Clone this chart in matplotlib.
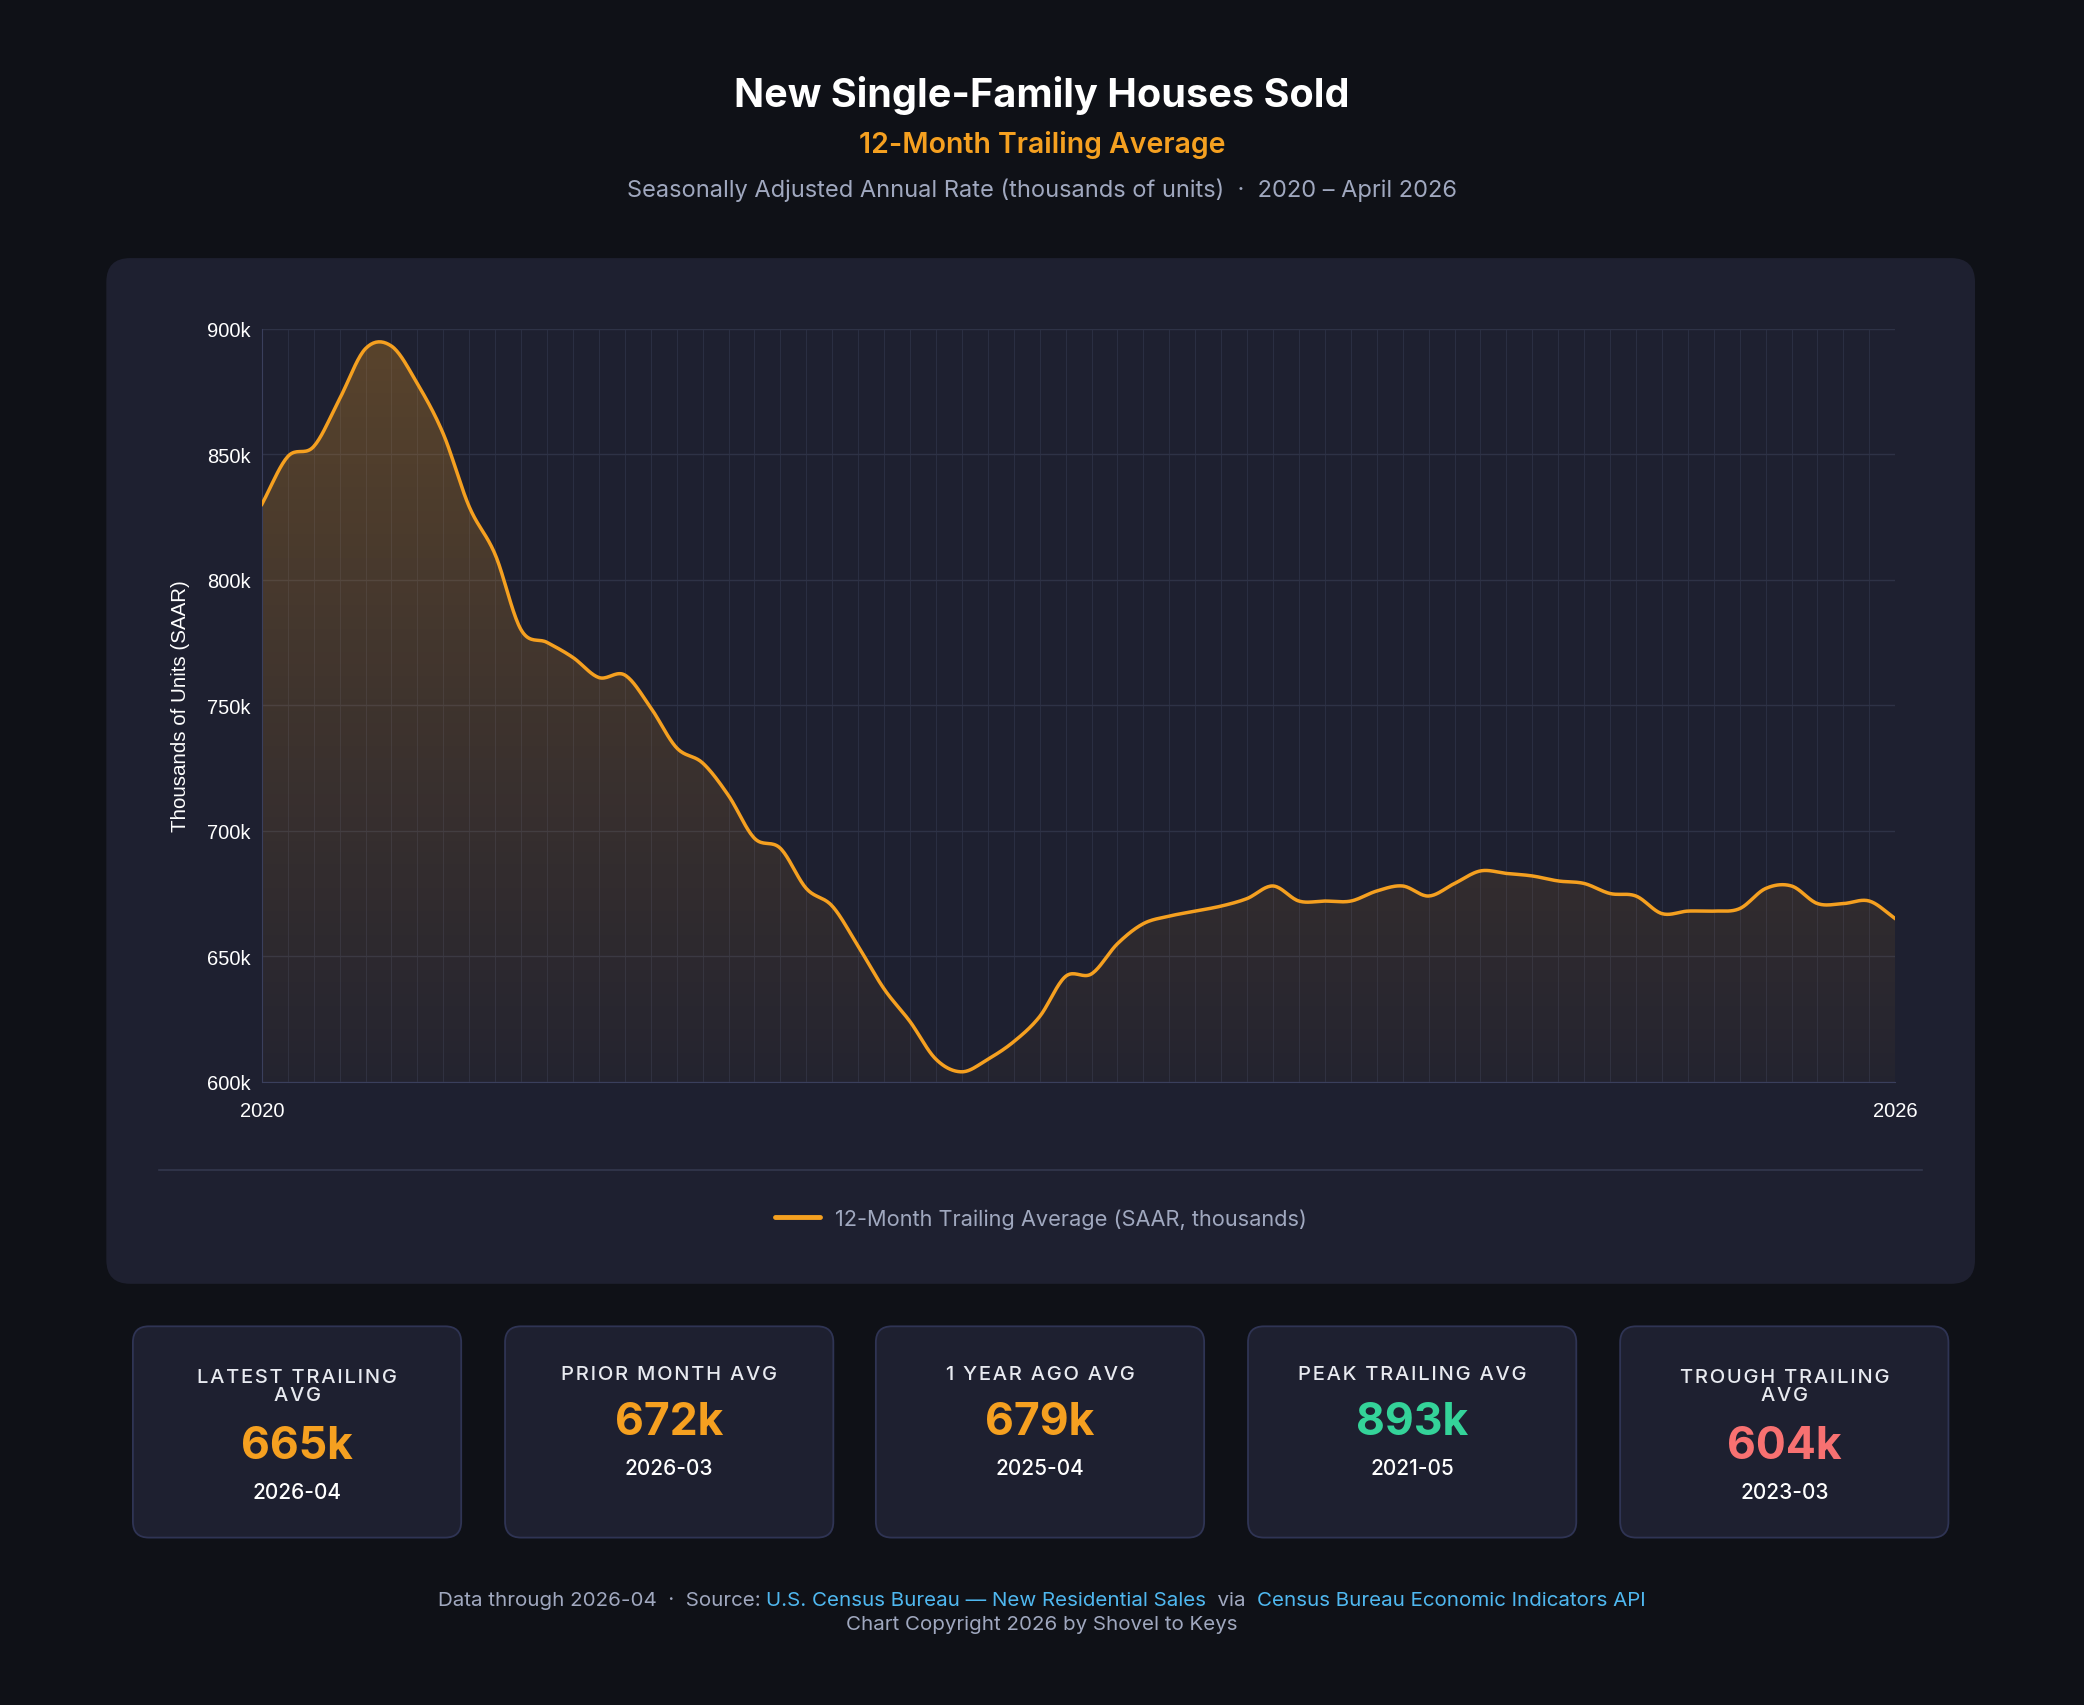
import numpy as np
import matplotlib
matplotlib.use("Agg")
import matplotlib.pyplot as plt
from matplotlib.patches import FancyBboxPatch

# 12-month trailing average, 2021-01 .. 2026-04 (thousands, SAAR)
values = [830, 849, 853, 872, 892, 893, 878, 858, 829, 810,
          780, 775, 769, 761, 762, 749, 733, 727, 714, 697,
          693, 677, 670, 654, 637, 624, 609, 604, 609, 616,
          626, 642, 643, 655, 663, 666, 668, 670, 673, 678,
          672, 672, 672, 676, 678, 674, 679, 684, 683, 682,
          680, 679, 675, 674, 667, 668, 668, 669, 677, 678,
          671, 671, 672, 665]
y_ticks = [600, 650, 700, 750, 800, 850, 900]
x_labels = ["2020", "2026"]

card_labels = ["LATEST TRAILING\nAVG", "PRIOR MONTH AVG", "1 YEAR AGO AVG",
               "PEAK TRAILING AVG", "TROUGH TRAILING\nAVG"]
card_values = ["665k", "672k", "679k", "893k", "604k"]
card_dates = ["2026-04", "2026-03", "2025-04", "2021-05", "2023-03"]
card_colors = ["#f5a020", "#f5a020", "#f5a020", "#34d399", "#f87171"]

BG = "#0f1117"
PANEL = "#1e2030"
ORANGE = "#f5a020"
MUTED = "#a0a8bf"
SANS = ["Inter", "DejaVu Sans"]


def spaced(s):
    # rough letter-spacing for the uppercase card labels
    return "\n".join("\u200a".join(line) for line in s.split("\n"))


W, H = 1568, 1284
fig = plt.figure(figsize=(20.84, 17.06), dpi=100, facecolor=BG)
bg = fig.add_axes([0, 0, 1, 1], zorder=0)
bg.set_xlim(0, W)
bg.set_ylim(H, 0)
bg.axis("off")

# titles
bg.text(W / 2, 72, "New Single-Family Houses Sold", ha="center", va="center",
        color="white", fontsize=28.5, fontweight="bold", family=SANS)
bg.text(W / 2, 109, "12-Month Trailing Average", ha="center", va="center",
        color=ORANGE, fontsize=20.5, fontweight="semibold", family=SANS)
bg.text(W / 2, 143, "Seasonally Adjusted Annual Rate (thousands of units)  ·  2020 – April 2026",
        ha="center", va="center", color=MUTED, fontsize=17, family=SANS)

# main panel
bg.add_patch(FancyBboxPatch((80, 195), 1406, 772, boxstyle="round,pad=0,rounding_size=18",
                            fc=PANEL, ec="none"))
bg.plot([120, 1446], [881, 881], color="#33374d", lw=1.2)
bg.plot([583, 617], [917, 917], color=ORANGE, lw=3.5, solid_capstyle="round")
bg.text(628, 918, "12-Month Trailing Average (SAAR, thousands)", ha="left", va="center",
        color=MUTED, fontsize=15.7, family=SANS)

# stat cards
card_x = [100, 380, 659, 939, 1219]
for x0, lab, val, dt, col in zip(card_x, card_labels, card_values, card_dates, card_colors):
    bg.add_patch(FancyBboxPatch((x0, 999), 247, 159, boxstyle="round,pad=0,rounding_size=12",
                                fc=PANEL, ec="#2f3454", lw=1.3))
    cx = x0 + 123.5
    two = "\n" in lab
    off = 18 if two else 0
    bg.text(cx, 1035 + off / 2, spaced(lab), ha="center", va="center", color="#e8eaf0",
            fontsize=14.5, fontweight="medium", family=SANS, linespacing=1.0)
    bg.text(cx, 1071 + off, val, ha="center", va="center", color=col,
            fontsize=32, fontweight="bold", family=SANS)
    bg.text(cx, 1106 + off, dt, ha="center", va="center", color="white",
            fontsize=15, fontweight="medium", family=SANS)

# footer with mixed colours
fig.canvas.draw()
r = fig.canvas.get_renderer()
parts = [("Data through 2026-04  ·  Source: ", MUTED),
         ("U.S. Census Bureau — New Residential Sales", "#4fb8f0"),
         ("  via  ", MUTED),
         ("Census Bureau Economic Indicators API", "#4fb8f0")]
texts = []
for s, c in parts:
    t = bg.text(0, 1205, s, ha="left", va="center", color=c, fontsize=14.8, family=SANS)
    texts.append(t)
widths = [t.get_window_extent(renderer=r).width / (fig.get_figwidth() * fig.dpi) * W for t in texts]
x = W / 2 - sum(widths) / 2
for t, w in zip(texts, widths):
    t.set_x(x)
    x += w
bg.text(W / 2, 1223, "Chart Copyright 2026 by Shovel to Keys", ha="center", va="center",
        color=MUTED, fontsize=14.8, family=SANS)

# chart axes
ax = fig.add_axes([197 / W, 1 - 815 / H, (1426 - 197) / W, (815 - 248) / H], zorder=2)
ax.set_facecolor("none")
n = len(values)
xs = np.arange(n)
ys = np.array(values, dtype=float)

# smooth the drawn line (cubic Hermite between the monthly points)
m = np.gradient(ys)
xf, yf = [], []
for i in range(n - 1):
    t = np.linspace(0, 1, 20, endpoint=False)
    h00 = 2 * t**3 - 3 * t**2 + 1
    h10 = t**3 - 2 * t**2 + t
    h01 = -2 * t**3 + 3 * t**2
    h11 = t**3 - t**2
    xf.append(i + t)
    yf.append(h00 * ys[i] + h10 * m[i] + h01 * ys[i + 1] + h11 * m[i + 1])
xf = np.concatenate(xf + [[n - 1]])
yf = np.concatenate(yf + [[ys[-1]]])

ax.set_xlim(0, n - 1)
ax.set_ylim(600, 900)

grad = np.zeros((256, 1, 4))
grad[:, 0, 0] = 0.96
grad[:, 0, 1] = 0.63
grad[:, 0, 2] = 0.13
grad[:, 0, 3] = np.linspace(0.28, 0.03, 256)
im = ax.imshow(grad, extent=[0, n - 1, 600, 900], origin="upper", aspect="auto", zorder=1)
poly = ax.fill_between(xf, yf, 600, color="none")
im.set_clip_path(poly.get_paths()[0], transform=ax.transData)
ax.plot(xf, yf, color=ORANGE, lw=2.5, zorder=3)

for i in range(n):
    ax.axvline(i, color="#2a2e42", lw=0.8, zorder=0)
for v in y_ticks:
    ax.axhline(v, color="#2e3246", lw=1.0, zorder=0)

ax.set_yticks(y_ticks)
ax.set_yticklabels([f"{v}k" for v in y_ticks])
ax.set_xticks([0, n - 1])
ax.set_xticklabels(x_labels)
ax.tick_params(colors="white", labelsize=14.5, length=0)
ax.tick_params(axis="x", pad=14)
ax.tick_params(axis="y", pad=8)
for lab in ax.get_xticklabels() + ax.get_yticklabels():
    lab.set_family("Liberation Sans")
for s in ["top", "right"]:
    ax.spines[s].set_visible(False)
for s in ["left", "bottom"]:
    ax.spines[s].set_color("#3a3f5c")
ax.set_ylabel("Thousands of Units (SAAR)", color="white", fontsize=14.8,
              family="Liberation Sans", labelpad=12)

fig.savefig("out.png", dpi=100, facecolor=BG)
